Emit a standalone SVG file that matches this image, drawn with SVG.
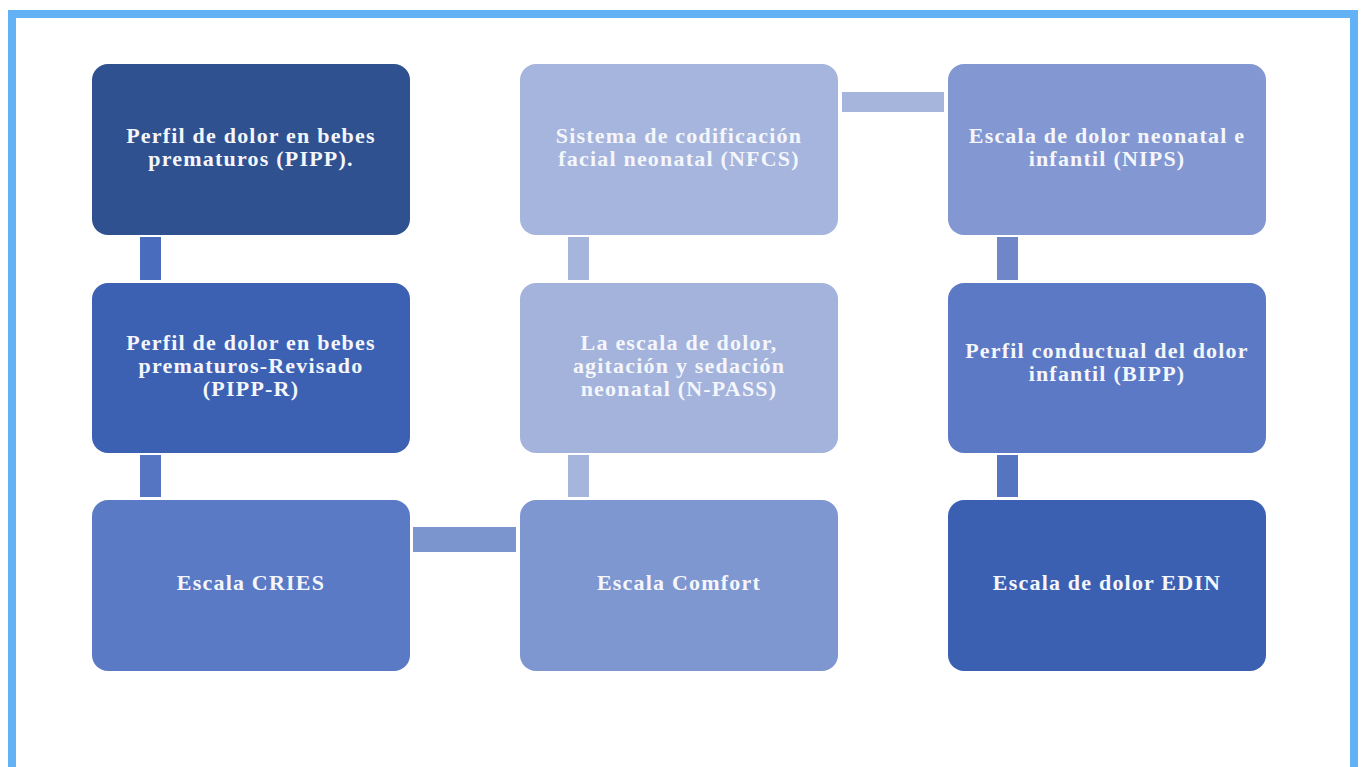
<svg xmlns="http://www.w3.org/2000/svg" width="1365" height="767" viewBox="0 0 1365 767">
<style>
.t{font-family:"Liberation Serif","Times New Roman",serif;font-weight:bold;font-size:22px;letter-spacing:1.2px;fill:#f4f6fb;text-anchor:middle}
.c1{fill:#4a6cbc}
.c2{fill:#a6b5dc}
.c3{fill:#6f87c9}
</style>
<rect x="0" y="0" width="1365" height="767" fill="#ffffff"/>
<rect x="12" y="14" width="1342" height="760" fill="none" stroke="#64b2f6" stroke-width="8"/>
<g id="connectors">
<rect class="c1" x="140" y="237" width="21" height="43"/>
<rect class="c1" x="140" y="455" width="21" height="42" style="fill:#5575c2"/>
<rect class="c3" x="413" y="527" width="103" height="25" style="fill:#7b95cf"/>
<rect class="c2" x="568" y="237" width="21" height="43"/>
<rect class="c2" x="568" y="455" width="21" height="42"/>
<rect class="c2" x="842" y="92" width="102" height="20"/>
<rect class="c3" x="997" y="237" width="21" height="43"/>
<rect class="c3" x="997" y="455" width="21" height="42" style="fill:#5575c2"/>
</g>
<g id="n1"><rect x="92" y="64" width="318" height="171" rx="16" fill="#2f5190"/>
<text class="t" x="251" y="143">Perfil de dolor en bebes</text><text class="t" x="251" y="166">prematuros (PIPP).</text></g>
<g id="n2"><rect x="92" y="283" width="318" height="170" rx="16" fill="#3c61b3"/>
<text class="t" x="251" y="350">Perfil de dolor en bebes</text><text class="t" x="251" y="373">prematuros-Revisado</text><text class="t" x="251" y="396">(PIPP-R)</text></g>
<g id="n3"><rect x="92" y="500" width="318" height="171" rx="16" fill="#5a7ac5"/>
<text class="t" x="251" y="590">Escala CRIES</text></g>
<g id="n4"><rect x="520" y="64" width="318" height="171" rx="16" fill="#a5b5dd"/>
<text class="t" x="679" y="143">Sistema de codificación</text><text class="t" x="679" y="166">facial neonatal (NFCS)</text></g>
<g id="n5"><rect x="520" y="283" width="318" height="170" rx="16" fill="#a3b3dc"/>
<text class="t" x="679" y="350">La escala de dolor,</text><text class="t" x="679" y="373">agitación y sedación</text><text class="t" x="679" y="396">neonatal (N-PASS)</text></g>
<g id="n6"><rect x="520" y="500" width="318" height="171" rx="16" fill="#7f97d0"/>
<text class="t" x="679" y="590">Escala Comfort</text></g>
<g id="n7"><rect x="948" y="64" width="318" height="171" rx="16" fill="#8398d2"/>
<text class="t" x="1107" y="143">Escala de dolor neonatal e</text><text class="t" x="1107" y="166">infantil (NIPS)</text></g>
<g id="n8"><rect x="948" y="283" width="318" height="170" rx="16" fill="#5b79c5"/>
<text class="t" x="1107" y="358">Perfil conductual del dolor</text><text class="t" x="1107" y="381">infantil (BIPP)</text></g>
<g id="n9"><rect x="948" y="500" width="318" height="171" rx="16" fill="#3b60b2"/>
<text class="t" x="1107" y="590">Escala de dolor EDIN</text></g>
</svg>
